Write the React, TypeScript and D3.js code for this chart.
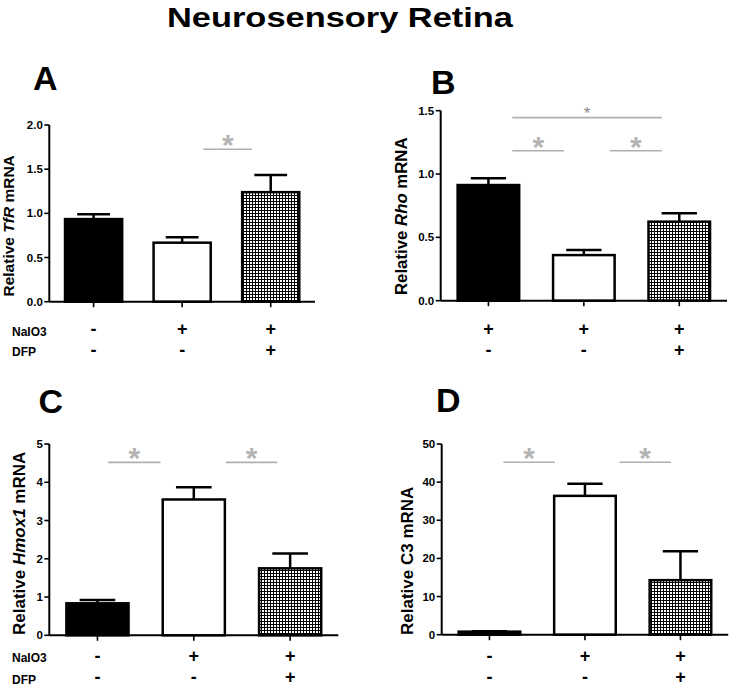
import React from "react";
import * as d3 from "d3";

// ---- data ----
const groups = ["Control", "NaIO3", "NaIO3 + DFP"];
const tfrMean = [0.935, 0.668, 1.24];
const tfrErr = [0.055, 0.062, 0.195];
const rhoMean = [0.913, 0.36, 0.624];
const rhoErr = [0.053, 0.04, 0.066];
const hmox1Mean = [0.836, 3.55, 1.75];
const hmox1Err = [0.084, 0.32, 0.39];
const c3Mean = [0.8, 36.4, 14.3];
const c3Err = [0.1, 3.2, 7.6];

const ticksA = [0, 0.5, 1, 1.5, 2];
const ticksB = [0, 0.5, 1, 1.5];
const ticksC = [0, 1, 2, 3, 4, 5];
const ticksD = [0, 10, 20, 30, 40, 50];

const naio3RowA = ["-", "+", "+"];
const naio3RowB = ["+", "+", "+"];
const dfpRow = ["-", "-", "+"];
const rowNames = ["NaIO3", "DFP"];

// significance brackets: [from (category units), to, y value, big star?]
const sigA = [[1.24, 1.79, 1.725, 1]];
const sigB = [
  [0.25, 1.817, 1.445, 0],
  [0.25, 0.794, 1.184, 1],
  [1.272, 1.817, 1.184, 1],
];
const sigC = [
  [0.112, 0.656, 4.52, 1],
  [1.334, 1.867, 4.52, 1],
];
const sigD = [
  [0.145, 0.686, 45.2, 1],
  [1.359, 1.901, 45.2, 1],
];

const title = "Neurosensory Retina";
const FONT = "'Liberation Sans', Arial, Helvetica, sans-serif";

type LabelPart = { t: string; i?: boolean };

type PanelProps = {
  letter: string;
  letterX: number;
  letterY: number;
  axisX: number;
  axisRight: number;
  yTop: number;
  yBottom: number;
  ticks: number[];
  fmt: (v: number) => string;
  mean: number[];
  err: number[];
  sig: number[][];
  row1: string[];
  row2: string[];
  rowY: [number, number];
  nameY: [number, number];
  showRowNames: boolean;
  label: LabelPart[];
  labelSize: number;
  labelX: number;
  labelBottom: number;
};

function Panel(p: PanelProps) {
  const yMax = p.ticks[p.ticks.length - 1];
  const y = d3.scaleLinear().domain([0, yMax]).range([p.yBottom, p.yTop]);
  const band = d3
    .scaleBand<string>()
    .domain(groups)
    .range([p.axisX, p.axisRight])
    .paddingInner(0)
    .paddingOuter(0);
  const bw = band.bandwidth();
  const center = (i: number) => (band(groups[i]) as number) + bw / 2;
  const catX = d3
    .scaleLinear()
    .domain([0, 1])
    .range([center(0), center(1)]);
  const barW = bw * 0.645;
  const capW = bw * 0.37;
  const fills = ["#000", "#fff", "url(#grid)"];

  return (
    <g>
      <text
        x={p.letterX}
        y={p.letterY}
        fontFamily={FONT}
        fontWeight="bold"
        fontSize={34}
      >
        {p.letter}
      </text>
      {/* y label */}
      <text
        transform={`translate(${p.labelX},${p.labelBottom}) rotate(-90)`}
        fontFamily={FONT}
        fontWeight="bold"
        fontSize={p.labelSize}
        textAnchor="start"
      >
        {p.label.map((lp, k) => (
          <tspan key={k} fontStyle={lp.i ? "italic" : "normal"}>
            {lp.t}
          </tspan>
        ))}
      </text>
      {/* bars */}
      {groups.map((g, i) => {
        const xc = center(i);
        const top = y(p.mean[i]);
        const eTop = y(p.mean[i] + p.err[i]);
        return (
          <g key={g}>
            <line
              x1={xc}
              x2={xc}
              y1={top}
              y2={eTop}
              stroke="#000"
              strokeWidth={2.5}
            />
            <line
              x1={xc - capW / 2}
              x2={xc + capW / 2}
              y1={eTop}
              y2={eTop}
              stroke="#000"
              strokeWidth={2.5}
            />
            <rect
              x={xc - barW / 2}
              y={top}
              width={barW}
              height={p.yBottom - top}
              fill={fills[i]}
              stroke="#000"
              strokeWidth={2.5}
            />
          </g>
        );
      })}
      {/* axes */}
      <line
        x1={p.axisX}
        x2={p.axisX}
        y1={p.yTop}
        y2={p.yBottom}
        stroke="#000"
        strokeWidth={2}
      />
      <line
        x1={p.axisX}
        x2={p.axisRight}
        y1={p.yBottom}
        y2={p.yBottom}
        stroke="#000"
        strokeWidth={2}
      />
      {p.ticks.map((t) => (
        <g key={t}>
          <line
            x1={p.axisX - 5}
            x2={p.axisX}
            y1={y(t)}
            y2={y(t)}
            stroke="#000"
            strokeWidth={1.6}
          />
          <text
            x={p.axisX - 6.5}
            y={y(t) + 4}
            textAnchor="end"
            fontFamily={FONT}
            fontWeight="bold"
            fontSize={11.5}
          >
            {p.fmt(t)}
          </text>
        </g>
      ))}
      {groups.map((g, i) => (
        <line
          key={g}
          x1={center(i)}
          x2={center(i)}
          y1={p.yBottom}
          y2={p.yBottom + 5.5}
          stroke="#000"
          strokeWidth={1.6}
        />
      ))}
      {/* significance */}
      {p.sig.map((s, k) => {
        const x1 = catX(s[0]);
        const x2 = catX(s[1]);
        const yy = y(s[2]);
        const big = s[3] === 1;
        return (
          <g key={k}>
            <line
              x1={x1}
              x2={x2}
              y1={yy}
              y2={yy}
              stroke="#b0b0b0"
              strokeWidth={1.6}
            />
            <text
              x={(x1 + x2) / 2}
              y={big ? yy + 6 : yy + 1.5}
              textAnchor="middle"
              fontFamily={FONT}
              fontWeight={big ? "bold" : "normal"}
              fontSize={big ? 30 : 17}
              fill={big ? "#b3b3b3" : "#8a8a8a"}
            >
              *
            </text>
          </g>
        );
      })}
      {/* treatment rows */}
      {[p.row1, p.row2].map((row, r) => (
        <g key={r}>
          {p.showRowNames && (
            <text
              x={12}
              y={p.nameY[r]}
              fontFamily={FONT}
              fontWeight="bold"
              fontSize={12}
            >
              {rowNames[r]}
            </text>
          )}
          {row.map((s, i) => (
            <text
              key={i}
              x={center(i)}
              y={p.rowY[r]}
              textAnchor="middle"
              fontFamily={FONT}
              fontWeight="bold"
              fontSize={18}
            >
              {s}
            </text>
          ))}
        </g>
      ))}
    </g>
  );
}

export default function App() {
  const f1 = d3.format(".1f");
  const f0 = d3.format("d");
  return (
    <svg
      width={731}
      height={687}
      style={{ position: "absolute", left: 0, top: 0, background: "#fff" }}
    >
      <defs>
        <pattern
          id="grid"
          width={3}
          height={3}
          patternUnits="userSpaceOnUse"
        >
          <rect width={3} height={3} fill="#fff" />
          <rect width={3} height={1} fill="#000" />
          <rect width={1} height={3} fill="#000" />
        </pattern>
      </defs>
      <rect width={731} height={687} fill="#fff" />
      <text
        x={167}
        y={26.5}
        fontFamily={FONT}
        fontWeight="bold"
        fontSize={28.5}
        textLength={346}
        lengthAdjust="spacingAndGlyphs"
      >
        {title}
      </text>
      <Panel
        letter="A"
        letterX={33}
        letterY={90}
        axisX={49.3}
        axisRight={315}
        yTop={125}
        yBottom={301.7}
        ticks={ticksA}
        fmt={f1}
        mean={tfrMean}
        err={tfrErr}
        sig={sigA}
        row1={naio3RowA}
        row2={dfpRow}
        rowY={[335, 356]}
        nameY={[336, 356]}
        showRowNames={true}
        label={[{ t: "Relative " }, { t: "TfR", i: true }, { t: " mRNA" }]}
        labelSize={15.5}
        labelX={14}
        labelBottom={296.5}
      />
      <Panel
        letter="B"
        letterX={431}
        letterY={94}
        axisX={440.7}
        axisRight={727}
        yTop={110.7}
        yBottom={300.7}
        ticks={ticksB}
        fmt={f1}
        mean={rhoMean}
        err={rhoErr}
        sig={sigB}
        row1={naio3RowB}
        row2={dfpRow}
        rowY={[335, 356]}
        nameY={[336, 356]}
        showRowNames={false}
        label={[{ t: "Relative " }, { t: "Rho", i: true }, { t: " mRNA" }]}
        labelSize={16.8}
        labelX={407}
        labelBottom={295}
      />
      <Panel
        letter="C"
        letterX={38.5}
        letterY={413}
        axisX={49.3}
        axisRight={338.3}
        yTop={444}
        yBottom={635.3}
        ticks={ticksC}
        fmt={f0}
        mean={hmox1Mean}
        err={hmox1Err}
        sig={sigC}
        row1={naio3RowA}
        row2={dfpRow}
        rowY={[661.5, 683]}
        nameY={[662, 684]}
        showRowNames={true}
        label={[{ t: "Relative " }, { t: "Hmox1", i: true }, { t: " mRNA" }]}
        labelSize={17}
        labelX={25}
        labelBottom={635}
      />
      <Panel
        letter="D"
        letterX={436}
        letterY={412}
        axisX={441.7}
        axisRight={728.2}
        yTop={444}
        yBottom={634.7}
        ticks={ticksD}
        fmt={f0}
        mean={c3Mean}
        err={c3Err}
        sig={sigD}
        row1={naio3RowA}
        row2={dfpRow}
        rowY={[661.5, 683]}
        nameY={[662, 684]}
        showRowNames={false}
        label={[{ t: "Relative C3 mRNA" }]}
        labelSize={17}
        labelX={412.7}
        labelBottom={635}
      />
    </svg>
  );
}
